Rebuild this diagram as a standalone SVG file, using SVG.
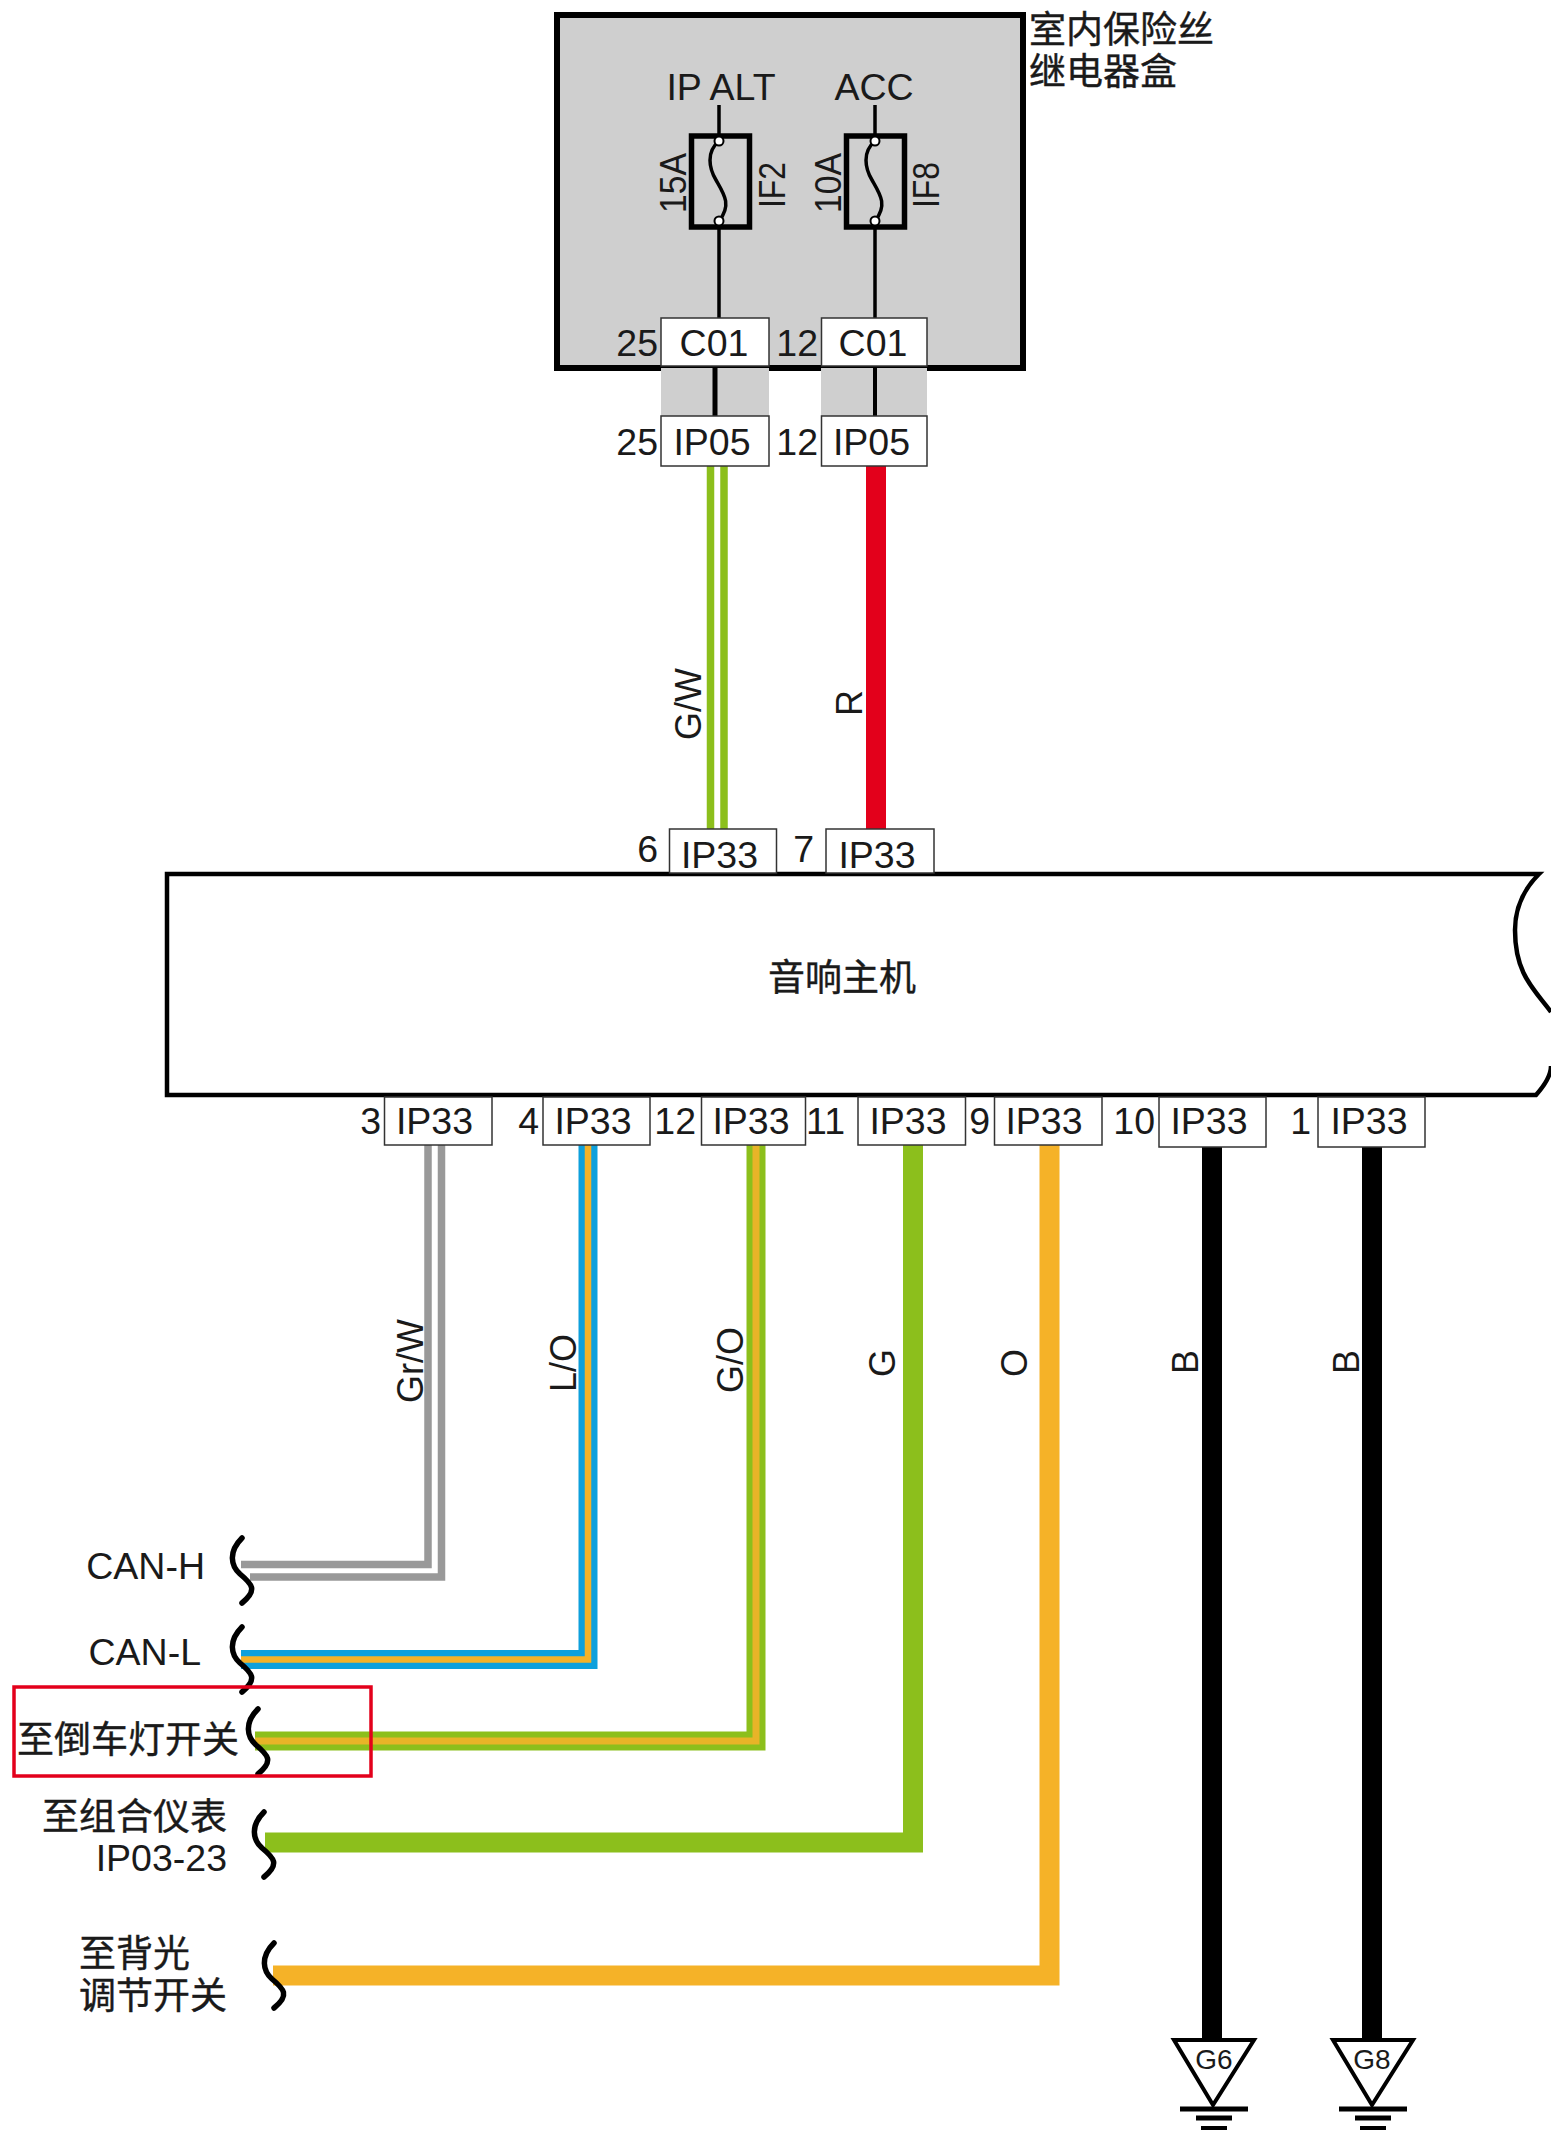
<svg xmlns="http://www.w3.org/2000/svg" width="1551" height="2130" viewBox="0 0 1551 2130">
<style>
text{font-family:"Liberation Sans","Noto Sans CJK SC",sans-serif;font-size:37.5px;fill:#1a1a1a}
.cjk{font-size:37px;stroke:#1a1a1a;stroke-width:.4px}
.r{font-size:36px}
.m{text-anchor:middle}.e{text-anchor:end}
.pin{fill:#fff;stroke:#333;stroke-width:1.5}
.sq{fill:none;stroke:#000;stroke-width:5.5;stroke-linecap:round}
.thin{fill:none;stroke:#000;stroke-width:3.5}
</style>
<defs>
<path id="sq" class="sq" d="M242 1538C228 1552 231 1566 240 1574C252 1584 258 1590 242 1603"/>
<g id="gnd">
<path d="M1174 2040H1254L1213 2105Z" fill="#fff" stroke="#000" stroke-width="4"/>
<path d="M1180 2109H1248" stroke="#000" stroke-width="5"/>
<path d="M1196 2118H1232" stroke="#000" stroke-width="5"/>
<path d="M1201 2129H1227" stroke="#000" stroke-width="6"/>
</g>
</defs>
<rect width="1551" height="2130" fill="#fff"/>

<g id="fuse-box">
<rect x="557" y="15" width="466" height="353" fill="#cfcfcf" stroke="#000" stroke-width="6"/>
<rect x="661" y="368" width="108" height="48" fill="#cfcfcf"/>
<rect x="821" y="368" width="106" height="48" fill="#cfcfcf"/>
<text x="1029" y="43" class="cjk">室内保险丝</text>
<text x="1029" y="85" class="cjk">继电器盒</text>
<text x="721" y="100" class="m">IP ALT</text>
<text x="874" y="100" class="m">ACC</text>
</g>

<g id="fuse-if2">
<path class="thin" d="M719 105V318"/>
<rect x="691.500" y="136" width="58" height="91" fill="#cfcfcf" stroke="#000" stroke-width="5.500"/>
<path class="thin" d="M719 141C706 152 709 168 716 180C724 194 732 205 719 221"/>
<circle cx="719" cy="141" r="4.500" fill="#fff" stroke="#000" stroke-width="2"/>
<circle cx="719" cy="221" r="4.500" fill="#fff" stroke="#000" stroke-width="2"/>
<text transform="translate(686 183) rotate(-90)" class="m" textLength="60" lengthAdjust="spacingAndGlyphs">15A</text>
<text transform="translate(785 185) rotate(-90)" class="m" textLength="46" lengthAdjust="spacingAndGlyphs">IF2</text>
</g>
<g id="fuse-if8">
<path class="thin" d="M875 105V318"/>
<rect x="846.500" y="136" width="58" height="91" fill="#cfcfcf" stroke="#000" stroke-width="5.500"/>
<path class="thin" d="M875 141C862 152 865 168 872 180C880 194 888 205 875 221"/>
<circle cx="875" cy="141" r="4.500" fill="#fff" stroke="#000" stroke-width="2"/>
<circle cx="875" cy="221" r="4.500" fill="#fff" stroke="#000" stroke-width="2"/>
<text transform="translate(841 183) rotate(-90)" class="m" textLength="60" lengthAdjust="spacingAndGlyphs">10A</text>
<text transform="translate(939 185) rotate(-90)" class="m" textLength="46" lengthAdjust="spacingAndGlyphs">IF8</text>
</g>

<g id="connectors">
<path d="M715 366V416" stroke="#000" stroke-width="5"/>
<path d="M875 366V416" stroke="#000" stroke-width="4"/>
<path d="M710.500 466V829M724 466V829" stroke="#8cbf1c" stroke-width="7.500" fill="none"/>
<path d="M876 466V829" stroke="#e3001b" stroke-width="20" fill="none"/>
<path d="M241 1564.500H428V1145M250 1577H441.500V1145" stroke="#999" stroke-width="7.500" fill="none"/>
<path d="M241 1659.500H588V1145" stroke="#0ea0dc" stroke-width="19" fill="none"/>
<path d="M241 1659.500H588V1145" stroke="#f5b228" stroke-width="6.500" fill="none"/>
<path d="M255 1741H756V1145" stroke="#8cbf1c" stroke-width="19" fill="none"/>
<path d="M255 1741H756V1145" stroke="#e8b428" stroke-width="7" fill="none"/>
<path d="M265 1842.500H913V1145" stroke="#8cbf1c" stroke-width="20" fill="none"/>
<path d="M273 1975.500H1049.500V1145" stroke="#f5b228" stroke-width="20" fill="none"/>
<path d="M1212 1147V2040M1372 1147V2040" stroke="#000" stroke-width="20" fill="none"/>
</g>

<g id="head-unit">
<path d="M1551 1012C1535 990 1515 975 1515 930C1515 905 1525 888 1539 874H167V1095H1536C1545 1085 1551 1075 1551 1066" fill="#fff" stroke="#000" stroke-width="4.500"/>
<text x="842" y="991" class="cjk m">音响主机</text>
</g>

<g id="c01-25"><rect class="pin" x="661" y="318" width="108" height="48"/><text x="658" y="356" class="e">25</text><text x="714" y="356" class="m">C01</text></g>
<g id="c01-12"><rect class="pin" x="821.500" y="318" width="105.500" height="48"/><text x="818" y="356" class="e">12</text><text x="873" y="356" class="m">C01</text></g>
<g id="ip05-25"><rect class="pin" x="661" y="416" width="108" height="50"/><text x="658" y="455" class="e">25</text><text x="712" y="455" class="m">IP05</text></g>
<g id="ip05-12"><rect class="pin" x="821.500" y="416" width="105.500" height="50"/><text x="818" y="455" class="e">12</text><text x="871.500" y="455" class="m">IP05</text></g>

<g id="ip33-6"><rect class="pin" x="669.500" y="829" width="107" height="44"/><text x="658" y="862" class="e">6</text><text x="719.500" y="868" class="m">IP33</text></g>
<g id="ip33-7"><rect class="pin" x="826" y="829" width="108" height="44"/><text x="814" y="862" class="e">7</text><text x="877" y="868" class="m">IP33</text></g>
<g id="ip33-3"><rect class="pin" x="384.500" y="1097" width="107.500" height="48"/><text x="381" y="1134" class="e">3</text><text x="434.500" y="1134" class="m">IP33</text></g>
<g id="ip33-4"><rect class="pin" x="543" y="1097" width="107" height="48"/><text x="539" y="1134" class="e">4</text><text x="593" y="1134" class="m">IP33</text></g>
<g id="ip33-12"><rect class="pin" x="701.500" y="1097" width="104" height="48"/><text x="696" y="1134" class="e">12</text><text x="751" y="1134" class="m">IP33</text></g>
<g id="ip33-11"><rect class="pin" x="858" y="1097" width="107.500" height="48"/><text x="845" y="1134" class="e">11</text><text x="908" y="1134" class="m">IP33</text></g>
<g id="ip33-9"><rect class="pin" x="994.500" y="1097" width="107.500" height="48"/><text x="990" y="1134" class="e">9</text><text x="1044" y="1134" class="m">IP33</text></g>
<g id="ip33-10"><rect class="pin" x="1159" y="1097" width="107" height="50"/><text x="1155" y="1134" class="e">10</text><text x="1209" y="1134" class="m">IP33</text></g>
<g id="ip33-1"><rect class="pin" x="1318" y="1097" width="107" height="50"/><text x="1311" y="1134" class="e">1</text><text x="1369" y="1134" class="m">IP33</text></g>

<g id="wire-labels">
<text transform="translate(701 704) rotate(-90)" class="m r">G/W</text>
<text transform="translate(862 703) rotate(-90)" class="m r">R</text>
<text transform="translate(423 1361) rotate(-90)" class="m r">Gr/W</text>
<text transform="translate(576 1363) rotate(-90)" class="m r">L/O</text>
<text transform="translate(743 1360) rotate(-90)" class="m r">G/O</text>
<text transform="translate(895 1363) rotate(-90)" class="m r">G</text>
<text transform="translate(1027 1363) rotate(-90)" class="m r">O</text>
<text transform="translate(1198 1362) rotate(-90)" class="m r">B</text>
<text transform="translate(1359 1362) rotate(-90)" class="m r">B</text>
</g>

<g id="to-can-h"><use href="#sq"/><text x="205" y="1579" class="e">CAN-H</text></g>
<g id="to-can-l"><use href="#sq" y="89"/><text x="201" y="1665" class="e">CAN-L</text></g>
<g id="to-reverse"><use href="#sq" x="16" y="171"/><text x="239" y="1753" class="cjk e">至倒车灯开关</text>
<rect x="14" y="1687" width="357" height="89" fill="none" stroke="#e3001b" stroke-width="3.500"/></g>
<g id="to-cluster"><use href="#sq" x="22" y="274"/><text x="227" y="1830" class="cjk e">至组合仪表</text><text x="227" y="1871" class="e">IP03-23</text></g>
<g id="to-backlight"><use href="#sq" x="32" y="405"/><text x="79" y="1967" class="cjk">至背光</text><text x="79" y="2009" class="cjk">调节开关</text></g>

<g id="ground-g6"><use href="#gnd"/><text x="1214" y="2069" class="m" style="font-size:28px">G6</text></g>
<g id="ground-g8"><use href="#gnd" x="159"/><text x="1372" y="2069" class="m" style="font-size:28px">G8</text></g>
</svg>
